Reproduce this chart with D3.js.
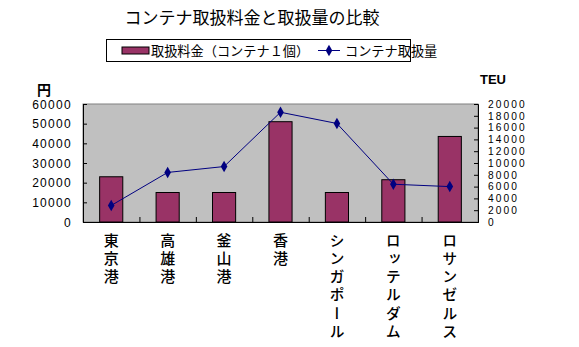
<!DOCTYPE html>
<html><head><meta charset="utf-8">
<script src="https://cdn.jsdelivr.net/npm/d3@7"></script>
<style>body{margin:0;background:#fff}svg{display:block}</style>
</head><body>
<svg id="c" width="579" height="347"></svg>
<script>
const categories = ["東京港","高雄港","釜山港","香港","シンガポール","ロッテルダム","ロサンゼルス"];
const fees = [23000, 15000, 15000, 51000, 15000, 21500, 43500];
const volumes = [2800, 8400, 9400, 18600, 16700, 6400, 6000];
const leftTicks = [0,10000,20000,30000,40000,50000,60000];
const rightTicks = [0,2000,4000,6000,8000,10000,12000,14000,16000,18000,20000];
const title = "コンテナ取扱料金と取扱量の比較";
const legendLabels = ["取扱料金（コンテナ１個）","コンテナ取扱量"];

const jp = "'Noto Sans CJK JP','Noto Sans',sans-serif";
const num = "'Liberation Sans',Arial,sans-serif";
const svg = d3.select("#c");
const L=83, R=478, T=104, B=222;

const x = d3.scaleBand().domain(categories).range([L,R]).paddingInner(0.59).paddingOuter(0.295);
const xb = d3.scaleBand().domain(categories).range([L,R]);
const yL = d3.scaleLinear().domain([0,60000]).range([B,T]);
const yR = d3.scaleLinear().domain([0,20000]).range([B,T]);

svg.append("rect").attr("x",L).attr("y",T).attr("width",R-L).attr("height",B-T)
  .attr("fill","#c0c0c0").attr("stroke","#808080").attr("stroke-width",1);

// axes
const gl = svg.append("g").attr("transform",`translate(${L},0)`)
  .call(d3.axisRight(yL).tickValues(leftTicks).tickSize(4).tickFormat(""));
gl.select(".domain").attr("stroke","#000");
svg.append("g").selectAll("text").data(leftTicks).join("text")
  .attr("x",72).attr("y",d=>yL(d)+4.5).attr("text-anchor","end")
  .attr("font-family",num).attr("font-size",12).attr("letter-spacing",1.3).text(d=>d);

const gr = svg.append("g").attr("transform",`translate(${R},0)`)
  .call(d3.axisLeft(yR).tickValues(rightTicks).tickSize(4).tickFormat(""));
gr.select(".domain").attr("stroke","#000");
svg.append("g").selectAll("text").data(rightTicks).join("text")
  .attr("x",488).attr("y",d=>yR(d)+3.8).attr("text-anchor","start")
  .attr("font-family",num).attr("font-size",10.2).attr("letter-spacing",2.1).text(d=>d);

const gb = svg.append("g").attr("transform",`translate(0,${B})`)
  .call(d3.axisTop(d3.scaleLinear().domain([0,7]).range([L,R])).tickValues([1,2,3,4,5,6]).tickSize(5).tickFormat(""));
gb.select(".domain").attr("stroke","#000");
gb.selectAll("line").attr("stroke","#000");

// bars
svg.append("g").selectAll("rect").data(categories).join("rect")
  .attr("x",d=>x(d)).attr("width",x.bandwidth())
  .attr("y",(d,i)=>yL(fees[i])).attr("height",(d,i)=>B-yL(fees[i]))
  .attr("fill","#993366").attr("stroke","#000").attr("stroke-width",1);

// line
const cx = d => xb(d)+xb.bandwidth()/2;
svg.append("path").datum(categories)
  .attr("d",d3.line().x(d=>cx(d)).y((d,i)=>yR(volumes[i])))
  .attr("fill","none").attr("stroke","#000080").attr("stroke-width",1);
const diamond = d3.symbol().type(d3.symbolDiamond).size(38);
svg.append("g").selectAll("path").data(categories).join("path")
  .attr("transform",(d,i)=>`translate(${cx(d)},${yR(volumes[i])})`)
  .attr("d",diamond).attr("fill","#000080");

// category labels vertical
svg.append("g").selectAll("text").data(categories).join("text")
  .attr("font-family",jp).attr("font-size",15).attr("font-weight",500)
  .attr("writing-mode","vertical-rl").attr("letter-spacing",3.1)
  .attr("x",d=>cx(d)).attr("y",233).text(d=>d);

// axis titles
svg.append("text").attr("x",44).attr("y",95).attr("text-anchor","middle")
  .attr("font-family",jp).attr("font-size",14).attr("font-weight",700).text("円");
svg.append("text").attr("x",493).attr("y",84).attr("text-anchor","middle")
  .attr("font-family",num).attr("font-size",13).attr("font-weight",700).text("TEU");

// title
svg.append("text").attr("x",252).attr("y",24).attr("text-anchor","middle")
  .attr("font-family",jp).attr("font-size",17).text(title);

// legend
svg.append("rect").attr("x",106.5).attr("y",39.5).attr("width",304).attr("height",22)
  .attr("fill","#fff").attr("stroke","#000");
svg.append("rect").attr("x",122).attr("y",47).attr("width",27).attr("height",7)
  .attr("fill","#993366").attr("stroke","#000");
svg.append("text").attr("x",151).attr("y",55.5).attr("font-family",jp).attr("font-size",13.2).text(legendLabels[0]);
svg.append("line").attr("x1",318).attr("x2",340).attr("y1",50.5).attr("y2",50.5).attr("stroke","#000080");
svg.append("path").attr("transform","translate(329,50.5)").attr("d",diamond).attr("fill","#000080");
svg.append("text").attr("x",345).attr("y",55.5).attr("font-family",jp).attr("font-size",13.2).text(legendLabels[1]);
</script>
</body></html>
